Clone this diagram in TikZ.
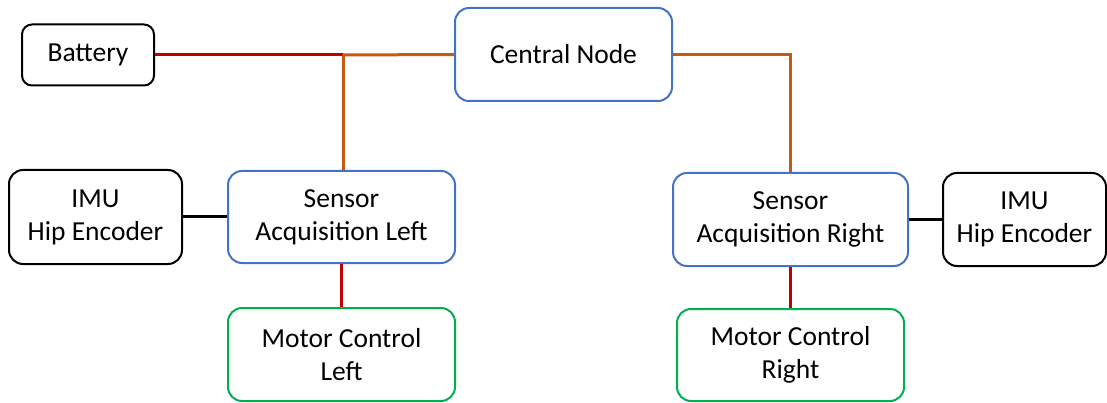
\documentclass[tikz,border=0pt]{standalone}
\usepackage{fontspec}
\setmainfont{Carlito}
\usepackage{tikz}
\definecolor{officeBlue}{HTML}{4472C4}
\definecolor{officeGreen}{HTML}{00B050}
\definecolor{officeRed}{HTML}{C00000}
\definecolor{officeOrange}{HTML}{C55A11}
\tikzset{
  lbl/.style={font=\fontsize{27.5}{33}\selectfont},
}

\begin{document}
\begin{tikzpicture}[x=1pt, y=-1pt,
  block/.style={draw, line width=2pt, rounded corners=14pt, align=center, inner sep=0pt,
                minimum width=227pt, minimum height=93pt},
  wire/.style={line width=3pt}, lbl]
  \useasboundingbox (0,0) rectangle (1107,403);
  \node[block, minimum width=132pt, minimum height=61pt, rounded corners=10pt] (bat) at (88,55) {Battery};
  \node[block, officeBlue, text=black, minimum width=217pt] (cen)  at (563.5,54.5) {Central Node};
  \node[block, minimum width=173pt, minimum height=94pt] (imul) at (95.5,217) {IMU\\Hip Encoder};
  \node[block, officeBlue, text=black, minimum height=92pt] (senl) at (341.5,217) {Sensor\\Acquisition Left};
  \node[block, officeGreen, text=black] (motl) at (341.5,354.5) {Motor Control\\Left};
  \node[block, officeBlue, text=black, minimum width=235pt] (senr) at (790.5,219.5) {Sensor\\Acquisition Right};
  \node[block, minimum width=163pt] (imur) at (1024.5,219.5) {IMU\\Hip Encoder};
  \node[block, officeGreen, text=black, minimum height=92pt] (motr) at (790.5,355) {Motor Control\\Right};
  \coordinate (tee) at (343,55);
  \draw[wire, officeRed]    (bat.east) -- (tee);
  \draw[wire, officeOrange] (tee) -- (cen.west);
  \draw[wire, officeOrange] (tee) -- (tee |- senl.north);
  \draw[wire, officeOrange] (cen.east) -| (senr.north);
  \draw[wire] (imul.east) -- (senl.west);
  \draw[wire] (senr.east) -- (imur.west);
  \draw[wire, officeRed] (senl.south) -- (motl.north);
  \draw[wire, officeRed] (senr.south) -- (motr.north);
\end{tikzpicture}
\end{document}
